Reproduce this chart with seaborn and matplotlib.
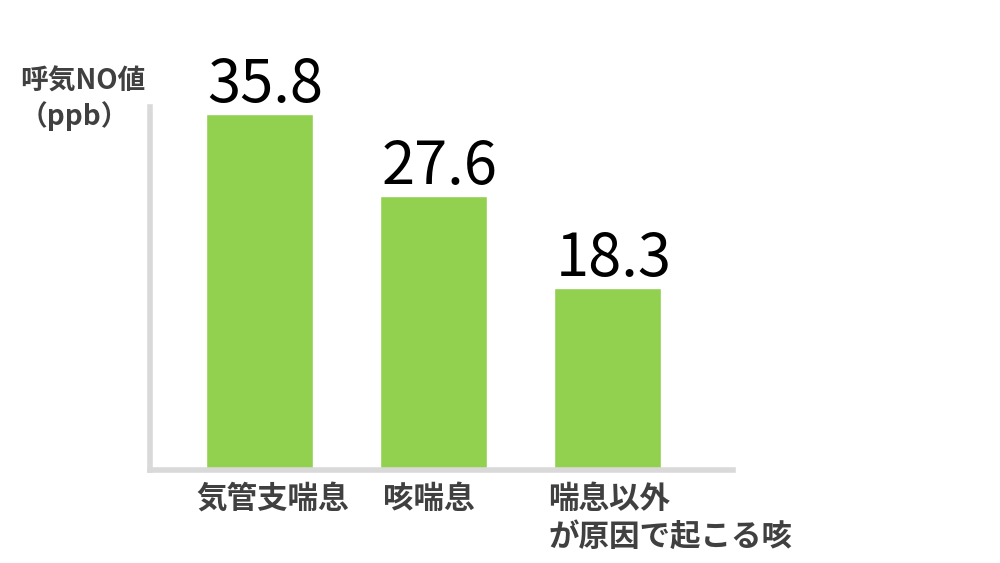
import matplotlib
matplotlib.use('Agg')
import matplotlib.pyplot as plt
import matplotlib.transforms as mtransforms
import pandas as pd
import seaborn as sns

# データ
categories = ['気管支喘息', '咳喘息', '喘息以外\nが原因で起こる咳']
values = [35.8, 27.6, 18.3]
value_labels = ['35.8', '27.6', '18.3']
ylabel_text = '呼気NO値\n（ppb）'

sns.set_style('white')
plt.rcParams['font.family'] = ['Noto Sans CJK JP', 'DejaVu Sans']

df = pd.DataFrame({'category': categories, 'value': values})

fig = plt.figure(figsize=(10, 5.63), dpi=100)
ax = fig.add_axes([0.15, 0.165, 0.583, 0.645])

sns.barplot(data=df, x='category', y='value', color='#92d050',
            width=0.615, saturation=1, ax=ax)

ax.set_xlim(-0.63, 2.72)
ax.set_ylim(0, 36.5)

# 軸線
for s in ['top', 'right']:
    ax.spines[s].set_visible(False)
for s in ['left', 'bottom']:
    ax.spines[s].set_color('#d9d9d9')
    ax.spines[s].set_linewidth(4)
ax.set_xticks([])
ax.set_yticks([])
ax.set_xlabel('')
ax.set_ylabel('')

# 値ラベル
for i, (v, lab) in enumerate(zip(values, value_labels)):
    ax.annotate(lab, (i, v), xytext=(4, -1.5), textcoords='offset points',
                ha='center', va='bottom', fontsize=43, color='black')

# カテゴリラベル (左揃え)
trans = mtransforms.blended_transform_factory(ax.transData, ax.transAxes)
offsets = [-0.365, -0.29, -0.342]
for i, (c, off) in enumerate(zip(categories, offsets)):
    ax.text(i + off, -0.035, c, transform=trans, ha='left', va='top',
            fontsize=22, fontweight='bold', color='#404040', linespacing=1.25)

# Y軸ラベル
fig.text(0.02, 0.88, ylabel_text, ha='left', va='top', fontsize=20,
         fontweight='bold', color='#404040', linespacing=1.25)

fig.savefig('out.png', dpi=100)
